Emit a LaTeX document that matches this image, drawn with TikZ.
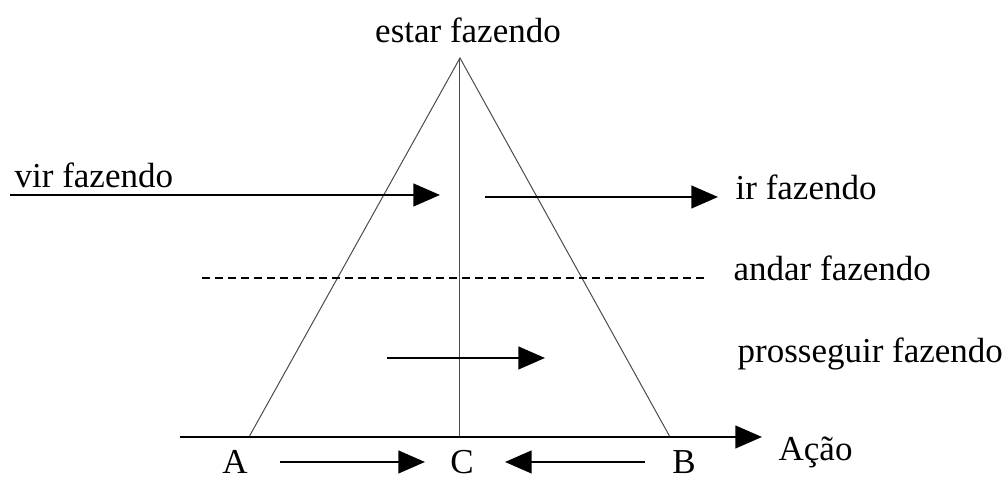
\documentclass[tikz,border=0pt]{standalone}
\usepackage{fontspec}
\setmainfont{Liberation Serif}
\usetikzlibrary{arrows.meta}

\tikzset{
  thinline/.style={line width=0.3pt, black!70},
  axisline/.style={line width=0.7pt},
  tiparrow/.style={axisline, -{Triangle[length=8pt, width=6.8pt]}},
  lbl/.style={font=\fontsize{10.5}{12}\selectfont, inner sep=0pt},
}

\begin{document}
\begin{tikzpicture}[x=0.3pt,y=-0.3pt]
\useasboundingbox (0,0) rectangle (1006,479);

% ---- layout parameters ----
\def\yBase{437}          % row y of the action axis
\def\yLow{462}           % row y of the letters below

% triangle corners
\coordinate (apex) at (460,58);
\coordinate (A0) at (249,\yBase);
\coordinate (B0) at (670,\yBase);
\coordinate (C0) at (460,\yBase);

% Triangle and centre line
\draw[thinline] (A0) -- (apex) -- (B0);
\draw[thinline] (apex) -- (C0);
\node[lbl] (top) at (468,30) {estar fazendo};

% Action axis
\coordinate (axL) at (180,\yBase);
\coordinate (axR) at (762,\yBase);
\draw[tiparrow] (axL) -- (axR);
\node[lbl, anchor=west] (acao) at (778,452) {Ação};

% letters under the axis
\node[lbl] (A) at (235,\yLow) {A};
\node[lbl] (C) at (462,\yLow) {C};
\node[lbl] (B) at (684,\yLow) {B};
\coordinate (aA) at (280,\yLow);
\coordinate (aC) at (425,\yLow);
\coordinate (bB) at (645,\yLow);
\coordinate (bC) at (505,\yLow);
\draw[tiparrow] (aA) -- (aC);
\draw[tiparrow] (bB) -- (bC);

% ---- arrows inside / outside the triangle ----
\node[lbl, anchor=west] (vir) at (14,175) {vir fazendo};
\coordinate (virS) at (10,195);
\coordinate (virE) at (440,195);
\draw[tiparrow] (virS) -- (virE);

\node[lbl, anchor=west] (ir) at (735,187) {ir fazendo};
\coordinate (irS) at (485,197);
\coordinate (irE) at (718,197);
\draw[tiparrow] (irS) -- (irE);

\node[lbl, anchor=west] (andar) at (733,268) {andar fazendo};
\coordinate (dL) at (202,278);
\coordinate (dR) at (708,278);
\draw[dash pattern=on 2.4pt off 1.5pt, line width=0.45pt] (dL) -- (dR);

\node[lbl, anchor=west] (pros) at (737,354) {prosseguir fazendo};
\coordinate (pS) at (387,358);
\coordinate (pE) at (545,358);
\draw[tiparrow] (pS) -- (pE);

\end{tikzpicture}
\end{document}
